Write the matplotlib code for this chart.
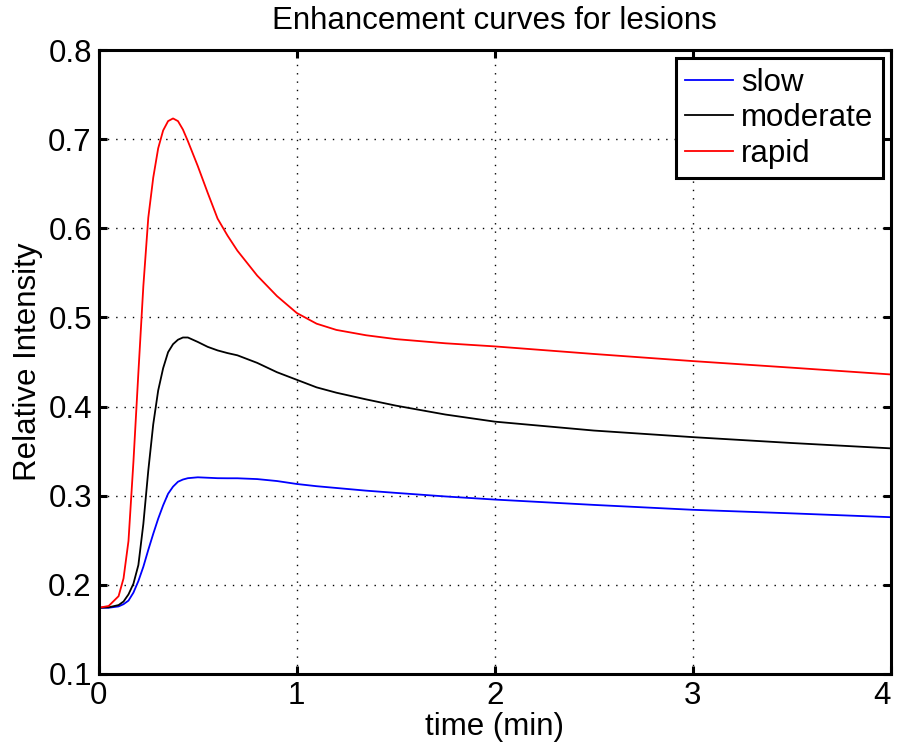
import matplotlib
matplotlib.use("Agg")
import matplotlib.pyplot as plt

plt.rcParams['font.family'] = ['Liberation Sans', 'DejaVu Sans']

# sample times (minutes)
time_min = [0, 0.05, 0.1, 0.125, 0.15, 0.175, 0.2, 0.225, 0.25, 0.275, 0.3,
            0.325, 0.35, 0.375, 0.4, 0.425, 0.45, 0.5, 0.55, 0.6, 0.65, 0.7,
            0.8, 0.9, 1.0, 1.1, 1.2, 1.35, 1.5, 1.75, 2.0, 2.5, 3.0, 3.5, 4.0]

slow = [0.174, 0.174, 0.1755, 0.178, 0.182, 0.191, 0.204, 0.220, 0.239, 0.257, 0.274,
        0.289, 0.302, 0.310, 0.3155, 0.318, 0.3195, 0.3205, 0.320, 0.3195, 0.3194, 0.3194,
        0.3185, 0.3163, 0.313, 0.3105, 0.3085, 0.3055, 0.303, 0.299, 0.2955, 0.2895, 0.284, 0.280, 0.2757]

moderate = [0.174, 0.1745, 0.177, 0.181, 0.189, 0.201, 0.222, 0.268, 0.328, 0.380, 0.418,
            0.443, 0.461, 0.470, 0.475, 0.4775, 0.4775, 0.4725, 0.467, 0.463, 0.460, 0.4575,
            0.449, 0.4385, 0.430, 0.4215, 0.4155, 0.408, 0.401, 0.391, 0.383, 0.373, 0.3656, 0.359, 0.353]

rapid = [0.174, 0.176, 0.187, 0.207, 0.249, 0.338, 0.438, 0.535, 0.612, 0.657, 0.690,
         0.710, 0.7205, 0.7235, 0.7205, 0.711, 0.698, 0.670, 0.640, 0.611, 0.592, 0.575,
         0.547, 0.524, 0.505, 0.493, 0.486, 0.480, 0.4757, 0.471, 0.4675, 0.459, 0.451, 0.4436, 0.436]

FS = 22.5

fig = plt.figure(figsize=(8.98, 7.51), dpi=100)
ax = fig.add_axes([0.110, 0.103, 0.882, 0.830])

ax.plot(time_min, slow, color='#0000ff', lw=1.3, label='slow')
ax.plot(time_min, moderate, color='k', lw=1.3, label='moderate')
ax.plot(time_min, rapid, color='#ff0000', lw=1.3, label='rapid')

ax.set_xlim(0, 4)
ax.set_ylim(0.1, 0.8)
ax.set_xticks([0, 1, 2, 3, 4])
ax.set_yticks([0.1, 0.2, 0.3, 0.4, 0.5, 0.6, 0.7, 0.8])
ax.set_yticklabels(['0.1', '0.2', '0.3', '0.4', '0.5', '0.6', '0.7', '0.8'])

ax.grid(True, color='k', linestyle=(0, (1, 5)), linewidth=1.0)
for s in ax.spines.values():
    s.set_linewidth(2.2)
ax.tick_params(direction='in', length=6, width=2.2, labelsize=FS,
               top=True, right=True, pad=5)

# keep the last x tick label inside the figure
xlabels = ax.get_xticklabels()
xlabels[-1].set_horizontalalignment('right')
xlabels[-1].set_x(4.03)

ax.set_title('Enhancement curves for lesions', fontsize=FS, pad=15)
ax.set_xlabel('time (min)', fontsize=FS, labelpad=1)
ax.set_ylabel('Relative Intensity', fontsize=FS, labelpad=4)

leg = ax.legend(loc='upper right', fontsize=FS, fancybox=False, framealpha=1,
                edgecolor='k', borderaxespad=0.25, handlelength=1.55,
                handletextpad=0.25, labelspacing=0.18, borderpad=0.3)
leg.get_frame().set_linewidth(2.2)

plt.savefig("out.png", dpi=100)
